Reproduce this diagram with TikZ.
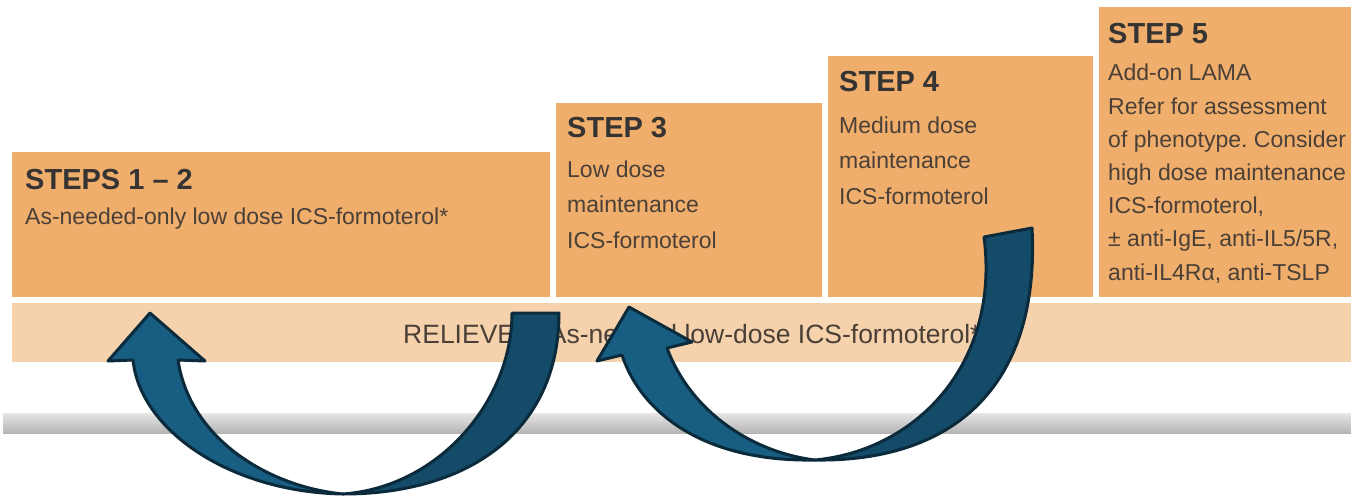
\documentclass[tikz,border=0pt]{standalone}
\usepackage{fontspec}
\setmainfont{Liberation Sans}
\usepackage{tikz}
\frenchspacing

\definecolor{steporange}{HTML}{F0AE6C}
\definecolor{relieverpeach}{HTML}{F6D2AC}
\definecolor{headgray}{HTML}{363432}
\definecolor{bodygray}{HTML}{4A4037}
\definecolor{arrowfront}{HTML}{175E82}
\definecolor{arrowback}{HTML}{134B68}
\definecolor{arrowedge}{HTML}{0B2A3B}

\begin{document}
\begin{tikzpicture}[x=1pt, y=1pt,
	stepbox/.style={rectangle, fill=steporange, inner sep=0pt},
	stephead/.style={anchor=base west, inner sep=0pt, text=headgray, font=\bfseries\fontsize{29}{34}\selectfont},
	steptext/.style={anchor=base west, inner sep=0pt, text=bodygray, align=left, font=\fontsize{23}{35.5}\selectfont},
	bendfront/.style={fill=arrowfront, draw=arrowedge, line width=3pt, line join=round},
	bendback/.style={fill=arrowback, draw=arrowedge, line width=3pt, line join=round}]
			\useasboundingbox (0,0) rectangle (1351,-498);
			
			\node[stepbox, minimum width=538pt, minimum height=145pt] (s12) at (281,-224.5){};
			\node[stepbox, minimum width=266pt, minimum height=194pt] (s3) at (689,-200){};
			\node[stepbox, minimum width=265pt, minimum height=241pt] (s4) at (960.5,-176.5){};
			\node[stepbox, minimum width=252pt, minimum height=290pt] (s5) at (1225,-152){};
			\node[rectangle, fill=relieverpeach, inner sep=0pt, minimum width=1339pt, minimum height=59pt] (rel) at (681.5,-332.5){};
			\shade[top color=gray!20, middle color=gray!68, bottom color=gray!58] (3,-413) rectangle (1351,-433);
			
			\node[stephead] (h12) at (25,-189){STEPS 1 -- 2};
			\node[steptext] (t12) at (25,-224){As-needed-only low dose ICS-formoterol*};
			\node[stephead] (h3) at (567,-137){STEP 3};
			\node[steptext] (t3) at (567,-248){Low dose\\maintenance\\ICS-formoterol};
			\node[stephead] (h4) at (839,-91){STEP 4};
			\node[steptext] (t4) at (839,-204){Medium dose\\maintenance\\ICS-formoterol};
			\node[stephead] (h5) at (1108,-43){STEP 5};
			\node[steptext, font=\fontsize{23}{33.2}\selectfont] (t5) at (1108,-280){Add-on LAMA\\Refer for assessment\\of phenotype. Consider\\high dose maintenance\\ICS-formoterol,\\± anti-IgE, anti-IL5/5R,\\anti-IL4Rα, anti-TSLP};
			\node[anchor=base west, inner sep=0pt, text=bodygray, font=\fontsize{26.5}{30}\selectfont] (rt) at (403,-343){RELIEVER: As-needed low-dose ICS-formoterol*};
			
			\path[bendback] (512,-313) -- (559,-313) .. controls (559,-430) and (470,-494) .. (343,-494) .. controls (440,-487) and (512,-400) .. (512,-313) -- cycle;
			\path[bendfront] (343,-494) .. controls (230,-492) and (140,-430) .. (133,-360) -- (108,-361) -- (150,-313) -- (205,-361) -- (178,-360) .. controls (190,-440) and (270,-487) .. (343,-494) -- cycle;
			\path[bendback] (984,-237) -- (1032,-228) .. controls (1040,-380) and (960,-462) .. (815,-460) .. controls (920,-450) and (1000,-360) .. (984,-237) -- cycle;
			\path[bendfront] (815,-460) .. controls (700,-462) and (640,-410) .. (622,-355) -- (597,-361) -- (629,-307) -- (692,-342) -- (667,-348) .. controls (690,-410) and (750,-452) .. (815,-460) -- cycle;
			\end{tikzpicture}
\end{document}
